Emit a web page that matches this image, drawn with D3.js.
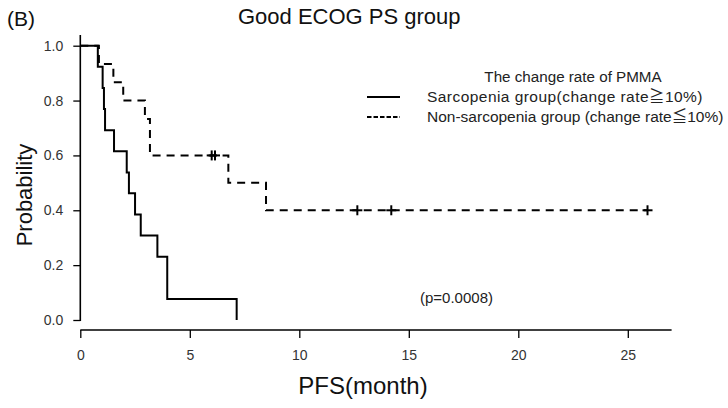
<!DOCTYPE html>
<html><head><meta charset="utf-8">
<script src="https://cdn.jsdelivr.net/npm/d3@7"></script>
<style>body{margin:0;background:#fff} text{font-family:"Liberation Sans",Arial,sans-serif}</style>
</head><body><svg id="c" width="728" height="408"></svg>
<script>
// Sarcopenia group (solid): step times and survival after each step
const sarcoTimes = [0, 0.8, 1.02, 1.08, 1.13, 1.54, 2.12, 2.22, 2.5, 2.76, 3.52, 3.97, 7.14];
const sarcoSurv  = [1, 0.923, 0.846, 0.769, 0.692, 0.615, 0.538, 0.462, 0.385, 0.308, 0.231, 0.077, 0];
// Non-sarcopenia group (dashed)
const nonTimes = [0, 0.85, 1.51, 1.96, 2.95, 3.18, 6.76, 8.48, 25.9];
const nonSurv  = [1, 0.933, 0.867, 0.8, 0.733, 0.6, 0.5, 0.4, 0.4];
const nonCensorT = [6.0, 6.15, 12.65, 14.2, 25.9];
const nonCensorS = [0.6, 0.6, 0.4, 0.4, 0.4];
const xTicks = [0, 5, 10, 15, 20, 25];
const yTicks = [0, 0.2, 0.4, 0.6, 0.8, 1.0];
const legendTitle = "The change rate of PMMA";
const legendParts = [["Sarcopenia group(change rate", "\u2267", "10%)"], ["Non-sarcopenia group (change rate", "\u2266", "10%)"]];

const svg = d3.select("#c");
const x = d3.scaleLinear().domain([0, 27]).range([80.3, 671.6]);
const y = d3.scaleLinear().domain([0, 1]).range([320, 45.7]);

// Axes
const yAxis = svg.append("g").attr("transform", "translate(80.3,0)")
  .call(d3.axisLeft(y).tickValues(yTicks).tickFormat(d3.format(".1f")).tickSize(7).tickPadding(10));
yAxis.select(".domain").remove();
svg.append("line").attr("x1", 80.3).attr("x2", 80.3).attr("y1", 35).attr("y2", 321)
  .attr("stroke", "#000").attr("stroke-width", 1.6);
const xAxis = svg.append("g").attr("transform", "translate(0,330)")
  .call(d3.axisBottom(x).tickValues(xTicks).tickFormat(d3.format("d")).tickSize(8).tickPadding(12));
xAxis.select(".domain").remove();
svg.append("line").attr("x1", 80.3).attr("x2", x(27)).attr("y1", 330).attr("y2", 330)
  .attr("stroke", "#000").attr("stroke-width", 1.6);
svg.selectAll(".tick line").attr("stroke", "#000").attr("stroke-width", 1.3);
svg.selectAll(".tick text").attr("font-size", 14).attr("fill", "#333")
  .attr("font-family", "Liberation Sans, Arial, sans-serif");

// Curves
const line = d3.line().x(d => x(d[0])).y(d => y(d[1])).curve(d3.curveStepAfter);
svg.append("path").attr("d", line(sarcoTimes.map((t, i) => [t, sarcoSurv[i]])))
  .attr("fill", "none").attr("stroke", "#000").attr("stroke-width", 2);
svg.append("path").attr("d", line(nonTimes.map((t, i) => [t, nonSurv[i]])))
  .attr("fill", "none").attr("stroke", "#000").attr("stroke-width", 2).attr("stroke-dasharray", "8,6");

// Censor marks
const cm = svg.append("g");
nonCensorT.forEach((t, i) => {
  cm.append("line").attr("x1", x(t)).attr("x2", x(t)).attr("y1", y(nonCensorS[i]) - 5).attr("y2", y(nonCensorS[i]) + 5)
    .attr("stroke", "#000").attr("stroke-width", 2);
  cm.append("line").attr("x1", x(t) - 5).attr("x2", x(t) + 5).attr("y1", y(nonCensorS[i])).attr("y2", y(nonCensorS[i]))
    .attr("stroke", "#000").attr("stroke-width", 2);
});

// Legend
svg.append("text").attr("x", 573).attr("y", 82).attr("text-anchor", "middle").attr("font-size", 15.2).attr("fill", "#222").text(legendTitle);
svg.append("line").attr("x1", 367).attr("x2", 400).attr("y1", 97).attr("y2", 97).attr("stroke", "#000").attr("stroke-width", 2);
svg.append("line").attr("x1", 367).attr("x2", 400).attr("y1", 117).attr("y2", 117).attr("stroke", "#000").attr("stroke-width", 2).attr("stroke-dasharray", "4.5,2");
const legendSpacing = [0.45, 0];
legendParts.forEach((parts, i) => {
  const t = svg.append("text").attr("x", 427).attr("y", 102 + 20 * i).attr("font-size", 15.5).attr("fill", "#222")
    .attr("letter-spacing", legendSpacing[i]);
  t.append("tspan").text(parts[0]);
  t.append("tspan").attr("font-family", "Noto Sans CJK JP").text(parts[1]);
  t.append("tspan").text(parts[2]);
});

// p-value
svg.append("text").attr("x", 420).attr("y", 303).attr("font-size", 15).attr("fill", "#222").text("(p=0.0008)");

// Titles
svg.append("text").attr("x", 7).attr("y", 26).attr("font-size", 21).attr("fill", "#111").text("(B)");
svg.append("text").attr("x", 238).attr("y", 24).attr("font-size", 22).attr("fill", "#111").text("Good ECOG PS group");
svg.append("text").attr("x", 363).attr("y", 394).attr("text-anchor", "middle").attr("font-size", 24).attr("fill", "#111").text("PFS(month)");
svg.append("text").attr("transform", "translate(32,195) rotate(-90)").attr("text-anchor", "middle").attr("font-size", 22).attr("fill", "#111").text("Probability");
</script></body></html>
